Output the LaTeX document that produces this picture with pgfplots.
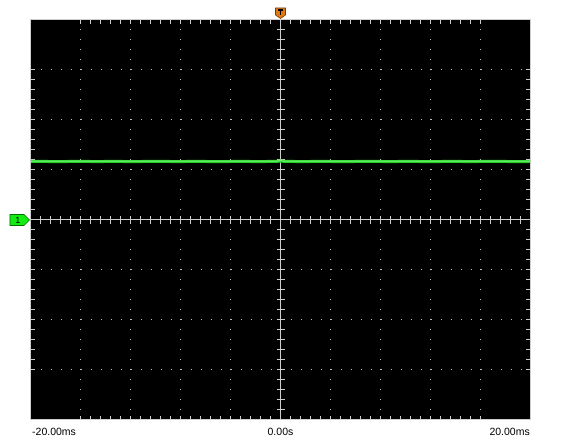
\documentclass[border=0pt]{standalone}
\usepackage{pgfplots}
\pgfplotsset{compat=1.18}
\usepackage{fontspec}
\setmainfont{Liberation Sans}
\definecolor{gridc}{RGB}{205,205,205}
\definecolor{dotc}{RGB}{185,185,185}
\definecolor{trace}{RGB}{40,205,40}
\definecolor{tracehi}{RGB}{120,255,120}
\definecolor{trigor}{RGB}{225,120,20}
\definecolor{trigdk}{RGB}{120,60,10}
\definecolor{chg}{RGB}{20,235,20}
\definecolor{chdk}{RGB}{0,110,0}
\begin{document}
\begin{tikzpicture}
\begin{axis}[
  scale only axis, width=499bp, height=400bp,
  xmin=-20, xmax=20, ymin=-4, ymax=4,
  axis background/.style={fill=black},
  axis line style={draw=gridc, line width=1bp},
  xtick={-16,-12,...,16}, ytick={-3,-2,-1,0,1,2,3},
  xticklabels={}, yticklabels={},
  minor x tick num=4, minor y tick num=4,
  major tick length=4bp, minor tick length=4bp,
  tick style={draw=gridc, line width=1bp},
  tick align=inside,
  xtick pos=both, ytick pos=both,
  grid=major,
  major grid style={draw=dotc, line width=1bp, dash pattern=on 1bp off 9bp, dash phase=0.5bp},
  clip=false,
]
% center cross
\draw[gridc, line width=1bp] (axis cs:0,-4) -- (axis cs:0,4);
\draw[gridc, line width=1bp] (axis cs:-20,0) -- (axis cs:20,0);
\pgfplotsinvokeforeach{-24,...,24}{
  \draw[gridc, line width=1bp] ([yshift=-4bp]axis cs:{#1*0.8},0) -- ([yshift=4bp]axis cs:{#1*0.8},0);
}
\pgfplotsinvokeforeach{-19,...,19}{
  \draw[gridc, line width=1bp] ([xshift=-4bp]axis cs:0,{#1*0.2}) -- ([xshift=4bp]axis cs:0,{#1*0.2});
}
% trace
\addplot[draw=trace, line width=3bp] coordinates {
(-20,1.17) (-19,1.171) (-18,1.168) (-17,1.17) (-16,1.172) (-15,1.169) (-14,1.17)
(-13,1.171) (-12,1.168) (-11,1.17) (-10,1.172) (-9,1.17) (-8,1.169) (-7,1.171)
(-6,1.17) (-5,1.168) (-4,1.17) (-3,1.171) (-2,1.169) (-1,1.17) (-0.3,1.172) (0,1.18) (0.3,1.172)
(1,1.17) (2,1.169) (3,1.171) (4,1.17) (5,1.168) (6,1.17) (7,1.172) (8,1.17)
(9,1.169) (10,1.171) (11,1.17) (12,1.168) (13,1.17) (14,1.171) (15,1.169)
(16,1.17) (17,1.172) (18,1.17) (19,1.169) (20,1.17)};
\addplot[draw=tracehi, line width=1bp] coordinates {
(-20,1.178) (-10,1.178) (-0.3,1.178) (0,1.186) (0.3,1.178) (10,1.178) (20,1.178)};
% labels
\node[anchor=north west, inner sep=0pt, font=\fontsize{10.5bp}{12bp}\selectfont] at ([xshift=1bp,yshift=-8bp]axis cs:-20,-4) {-20.00ms};
\node[anchor=north, inner sep=0pt, font=\fontsize{10.5bp}{12bp}\selectfont] at ([yshift=-8bp]axis cs:0,-4) {0.00s};
\node[anchor=north east, inner sep=0pt, font=\fontsize{10.5bp}{12bp}\selectfont] at ([yshift=-8bp]axis cs:20,-4) {20.00ms};
\coordinate (sw) at (rel axis cs:0,0);
\coordinate (ne) at (rel axis cs:1,1);
\coordinate (trig) at (axis cs:0,4);
\coordinate (chm) at (axis cs:-20,0);
\end{axis}
% trigger marker
\filldraw[fill=trigor, draw=trigdk, line width=0.6bp]
  ([shift={(-5bp,12bp)}]trig) -- ([shift={(5bp,12bp)}]trig) -- ([shift={(5bp,5bp)}]trig)
  -- ([shift={(0bp,1.5bp)}]trig) -- ([shift={(-5bp,5bp)}]trig) -- cycle;
\draw[black, line width=1.2bp] ([shift={(-2.5bp,10bp)}]trig) -- ([shift={(2.5bp,10bp)}]trig);
\draw[black, line width=1.4bp] ([shift={(0bp,10bp)}]trig) -- ([shift={(0bp,5bp)}]trig);
% channel marker
\filldraw[fill=chg, draw=chdk, line width=0.6bp]
  ([shift={(-21bp,5.5bp)}]chm) -- ([shift={(-7bp,5.5bp)}]chm) -- ([shift={(-1.5bp,0bp)}]chm)
  -- ([shift={(-7bp,-5.5bp)}]chm) -- ([shift={(-21bp,-5.5bp)}]chm) -- cycle;
\node[inner sep=0pt, font=\fontsize{9bp}{10bp}\selectfont] at ([shift={(-13bp,0bp)}]chm) {1};
\pgfresetboundingbox
\path ([shift={(-31bp,-21bp)}]sw) rectangle ([shift={(31bp,20bp)}]ne);
\end{tikzpicture}
\end{document}
